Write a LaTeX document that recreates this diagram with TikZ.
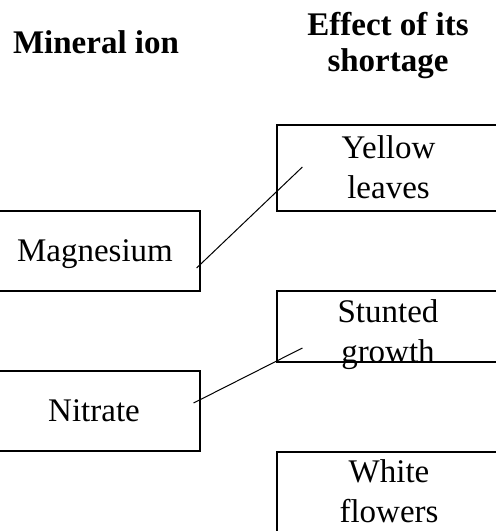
\documentclass[tikz,border=0pt]{standalone}
\usepackage{fontspec}
\setmainfont{Liberation Serif}
\begin{document}
\begin{tikzpicture}[x=1pt,y=1pt,
  box/.style={draw, line width=1.2pt, inner sep=0pt, minimum width=243pt},
  lbox/.style={draw, line width=1.2pt, inner sep=0pt, minimum width=220pt, minimum height=80pt},
  lbl/.style={font=\fontsize{33}{40}\selectfont, align=center, inner sep=0pt},
  head/.style={font=\bfseries\fontsize{33}{36}\selectfont, align=center, inner sep=0pt},
  link/.style={line width=1pt}]
\useasboundingbox (0,0) rectangle (496,531);
\clip (0,0) rectangle (496,531);
% headings
\node[head] (h1) at (96,488.5) {Mineral ion};
\node[head] (h2) at (388,485.5) {Effect of its\\shortage};
% boxes
\node[lbox] (mg) at (90,280) {};
\node[lbox] (ni) at (90,120) {};
\node[box, minimum height=86pt] (yl) at (398.5,363) {};
\node[box, minimum height=71pt] (st) at (398.5,204.5) {};
\node[box, minimum height=99pt] (wf) at (398.5,29.5) {};
% texts
\node[lbl] (tmg) at (95,277) {Magnesium};
\node[lbl] (tni) at (94,120.5) {Nitrate};
\node[lbl] (tyl) at (388.5,363.5) {Yellow\\leaves};
\node[lbl] (tst) at (388,196) {Stunted\\growth};
\node[lbl] (twf) at (389,39.5) {White\\flowers};
% connectors
\coordinate (mgA) at ([shift={(-4,-17)}]mg.east);
\coordinate (ylA) at ([shift={(26,1)}]yl.west);
\coordinate (niA) at ([shift={(-7,8)}]ni.east);
\coordinate (stA) at ([shift={(26,-21.5)}]st.west);
\draw[link] (mgA) -- (ylA);
\draw[link] (niA) -- (stA);
\end{tikzpicture}
\end{document}
